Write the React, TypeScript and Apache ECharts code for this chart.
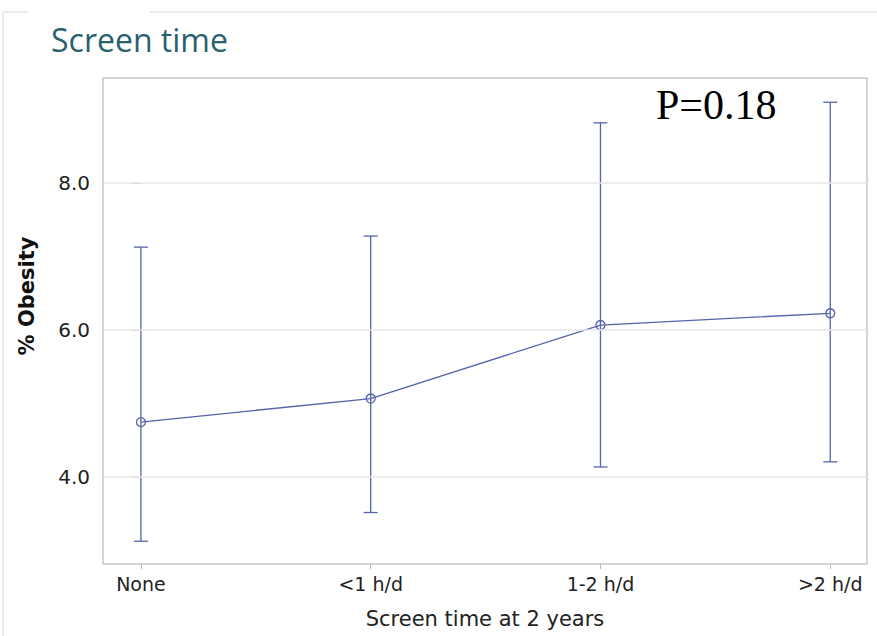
import React, { useEffect, useRef } from "react";
import * as echarts from "echarts";

const categories = ["None", "<1 h/d", "1-2 h/d", ">2 h/d"];
const estimates = [4.75, 5.07, 6.07, 6.23];
const lowerCI = [3.13, 3.52, 4.14, 4.21];
const upperCI = [7.13, 7.28, 8.82, 9.1];
const yTicks = [4, 6, 8];
const pValueText = "P=0.18";

const LINE_COLOR = "#5563a8";

export default function App() {
  const ref = useRef<HTMLDivElement>(null);
  useEffect(() => {
    if (!ref.current) return;
    const chart = echarts.init(ref.current, null, { renderer: "svg" });
    const xIdx = categories.map((_, i) => i);
    const option: any = {
      animation: false,
      backgroundColor: "#ffffff",
      grid: { left: 103, right: 10, top: 78, bottom: 72, show: true, borderColor: "#a9a9a9", borderWidth: 1 },
      title: {
        text: "Screen time",
        left: 46,
        top: 18,
        textStyle: { fontFamily: "Open Sans", fontWeight: "normal", fontSize: 32, color: "#2a6170" },
      },
      graphic: [
        { type: "line", shape: { x1: 3, y1: 12, x2: 3, y2: 636 }, style: { stroke: "#d8d8d8", lineWidth: 1 } },
        { type: "line", shape: { x1: 3, y1: 12, x2: 28, y2: 12 }, style: { stroke: "#d8d8d8", lineWidth: 1 } },
        { type: "line", shape: { x1: 150, y1: 12, x2: 877, y2: 12 }, style: { stroke: "#d8d8d8", lineWidth: 1 } },
        {
          type: "text",
          left: 656,
          top: 84,
          style: { text: pValueText, font: "42px 'Liberation Serif'", fill: "#000000" },
        },
        {
          type: "text",
          x: 27,
          y: 296,
          rotation: Math.PI / 2,
          style: {
            text: "% Obesity",
            font: "bold 21px 'DejaVu Sans'",
            fill: "#111111",
            align: "center",
            verticalAlign: "middle",
          },
        },
      ],
      xAxis: {
        type: "value",
        min: -0.165,
        max: 3.16,
        name: "Screen time at 2 years",
        nameLocation: "middle",
        nameGap: 44,
        nameTextStyle: { fontFamily: "DejaVu Sans", fontSize: 21, color: "#222" },
        axisLine: { show: false },
        splitLine: { show: false },
        axisTick: { show: true, customValues: xIdx, length: 5, lineStyle: { color: "#bbbbbb" } },
        axisLabel: {
          customValues: xIdx,
          formatter: (v: number) => categories[Math.round(v)] ?? "",
          fontFamily: "DejaVu Sans",
          fontSize: 19,
          color: "#222",
          margin: 10,
        },
      },
      yAxis: {
        type: "value",
        min: 2.82,
        max: 9.43,
        axisLine: { show: false },
        splitLine: { show: false },
        axisTick: { show: true, customValues: yTicks, length: 8, lineStyle: { color: "#bbbbbb" } },
        axisLabel: {
          customValues: yTicks,
          formatter: (v: number) => v.toFixed(1),
          fontFamily: "DejaVu Sans",
          fontSize: 20,
          color: "#222",
          margin: 13,
        },
      },
      series: [
        {
          type: "line",
          data: [],
          markLine: {
            silent: true,
            symbol: "none",
            label: { show: false },
            lineStyle: { color: "#e6e6e6", width: 1.5, type: "solid" },
            data: yTicks.map((v) => ({ yAxis: v })),
          },
        },
        {
          type: "custom",
          data: xIdx.map((i) => [i, lowerCI[i], upperCI[i]]),
          renderItem: (params: any, api: any) => {
            const x = api.value(0);
            const lo = api.coord([x, api.value(1)]);
            const hi = api.coord([x, api.value(2)]);
            const half = 7;
            const style = { stroke: LINE_COLOR, lineWidth: 1.3 };
            return {
              type: "group",
              children: [
                { type: "line", shape: { x1: lo[0], y1: lo[1], x2: hi[0], y2: hi[1] }, style },
                { type: "line", shape: { x1: lo[0] - half, y1: lo[1], x2: lo[0] + half, y2: lo[1] }, style },
                { type: "line", shape: { x1: hi[0] - half, y1: hi[1], x2: hi[0] + half, y2: hi[1] }, style },
              ],
            };
          },
          z: 3,
        },
        {
          type: "line",
          data: xIdx.map((i) => [i, estimates[i]]),
          symbol: "circle",
          symbolSize: 9,
          lineStyle: { color: LINE_COLOR, width: 1.3 },
          itemStyle: { color: "rgba(255,255,255,0)", borderColor: LINE_COLOR, borderWidth: 1.3 },
          z: 4,
        },
      ],
    };
    chart.setOption(option);
    return () => chart.dispose();
  }, []);
  return <div ref={ref} style={{ width: 877, height: 636, position: "absolute", left: 0, top: 0 }} />;
}
